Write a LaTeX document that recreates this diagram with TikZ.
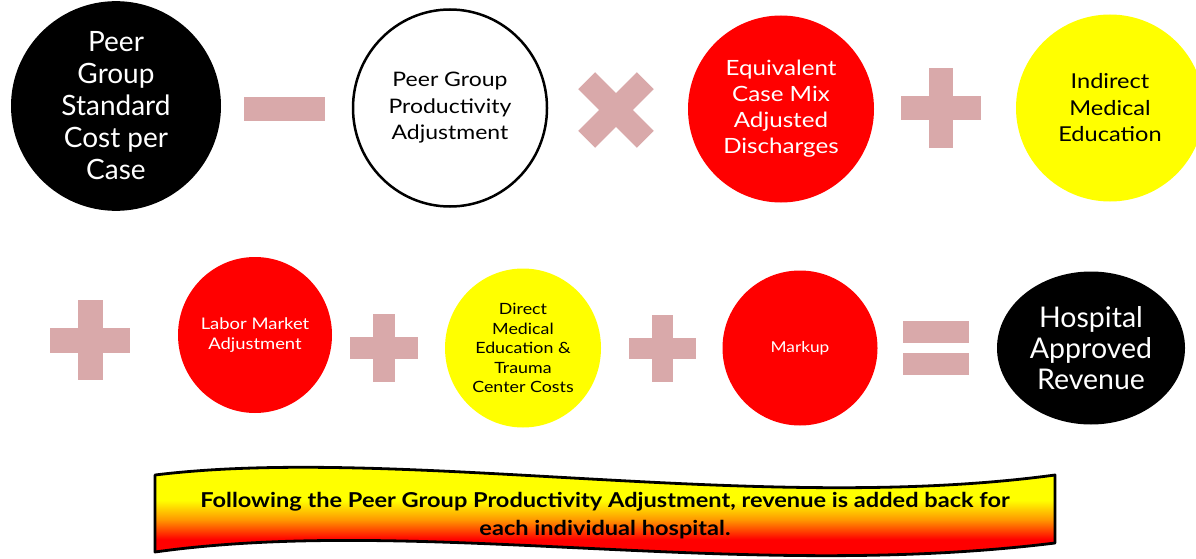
\documentclass[tikz,border=0pt]{standalone}
\usepackage{fontspec}
\setmainfont{Lato}
\newfontfamily\widefont[FakeStretch=1.15]{Lato}
\usetikzlibrary{shapes.geometric}
\definecolor{opc}{RGB}{217,169,170}
\definecolor{redf}{RGB}{255,0,0}
\definecolor{yelf}{RGB}{255,255,0}
\definecolor{orgf}{RGB}{255,150,0}
\pgfdeclareverticalshading{bannershade}{100bp}{color(0bp)=(redf); color(35bp)=(redf); color(45.5bp)=(orgf); color(56bp)=(yelf); color(100bp)=(yelf)}
\newcommand\plusop[4]{%
  \fill[opc] ({#1-#3/2},{#2-#4/2}) rectangle ({#1+#3/2},{#2+#4/2});
  \fill[opc] ({#1-#4/2},{#2-#3/2}) rectangle ({#1+#4/2},{#2+#3/2});}
\tikzset{
  term/.style={ellipse, inner sep=0pt, align=center},
  blk/.style={term, fill=black, text=white},
  wht/.style={term, fill=white, draw=black, line width=2.5pt, text=black},
  rd/.style={term, fill=redf, text=white},
  yl/.style={term, fill=yelf, text=black},
}
\begin{document}
\begin{tikzpicture}[x=1pt,y=-1pt]
\useasboundingbox (0,0) rectangle (1196,559);
% row 1
\node[blk, minimum width=210pt, minimum height=187pt,
  font=\fontsize{28}{32}\selectfont] (pgsc) at (116,106)
  {Peer\\Group\\Standard\\Cost per\\Case};
\fill[opc] (244,97) rectangle (325,121);
\node[wht, minimum width=194pt, minimum height=197pt,
  font=\widefont\fontsize{20}{26.5}\selectfont] (pgpa) at (450,108)
  {Peer Group\\Productivity\\Adjustment};
\begin{scope}[shift={(616,110)},rotate=45]
  \plusop{0}{0}{83}{24}
\end{scope}
\node[rd, minimum width=186pt, minimum height=187pt,
  font=\widefont\fontsize{21}{26}\selectfont] (ecm) at (781,109)
  {Equivalent\\Case Mix\\Adjusted\\Discharges};
\plusop{941}{108}{80}{24}
\node[yl, minimum width=188pt, minimum height=187pt,
  font=\widefont\fontsize{20.5}{26.5}\selectfont] (ime) at (1110,108)
  {Indirect\\Medical\\Education};
% row 2
\plusop{90}{340}{80}{25}
\node[rd, minimum width=154pt, minimum height=156pt,
  font=\widefont\fontsize{16}{20}\selectfont] (lma) at (255,335)
  {Labor Market\\Adjustment};
\plusop{384}{348}{68}{22}
\node[yl, minimum width=156pt, minimum height=159pt,
  font=\widefont\fontsize{15.5}{19.5}\selectfont] (dme) at (523,348)
  {Direct\\Medical\\Education \&\\Trauma\\Center Costs};
\plusop{662}{348}{67}{21}
\node[rd, minimum width=155pt, minimum height=155pt,
  font=\widefont\fontsize{15}{18}\selectfont] (mk) at (800,348)
  {Markup};
\fill[opc] (903,321) rectangle (969,343);
\fill[opc] (903,353) rectangle (969,375);
\node[blk, minimum width=188pt, minimum height=153pt,
  font=\fontsize{28.5}{31}\selectfont] (har) at (1091,348)
  {Hospital\\Approved\\Revenue};
% banner
\begin{scope}
  \clip (155,475) .. controls (400,445) and (760,515) .. (1055,475)
    -- (1055,543) .. controls (740,582) and (420,515) .. (155,552) -- cycle;
  \fill[shading=bannershade] (150,465) rectangle (1060,558);
\end{scope}
\draw[black, line width=2.8pt, line join=round]
  (155,475) .. controls (400,445) and (760,515) .. (1055,475)
  -- (1055,543) .. controls (740,582) and (420,515) .. (155,552) -- cycle;
\node[font=\widefont\bfseries\fontsize{20.5}{28}\selectfont, align=center, text=black] (note) at (605,516)
  {Following the Peer Group Productivity Adjustment, revenue is added back for\\each individual hospital.};
\end{tikzpicture}
\end{document}
